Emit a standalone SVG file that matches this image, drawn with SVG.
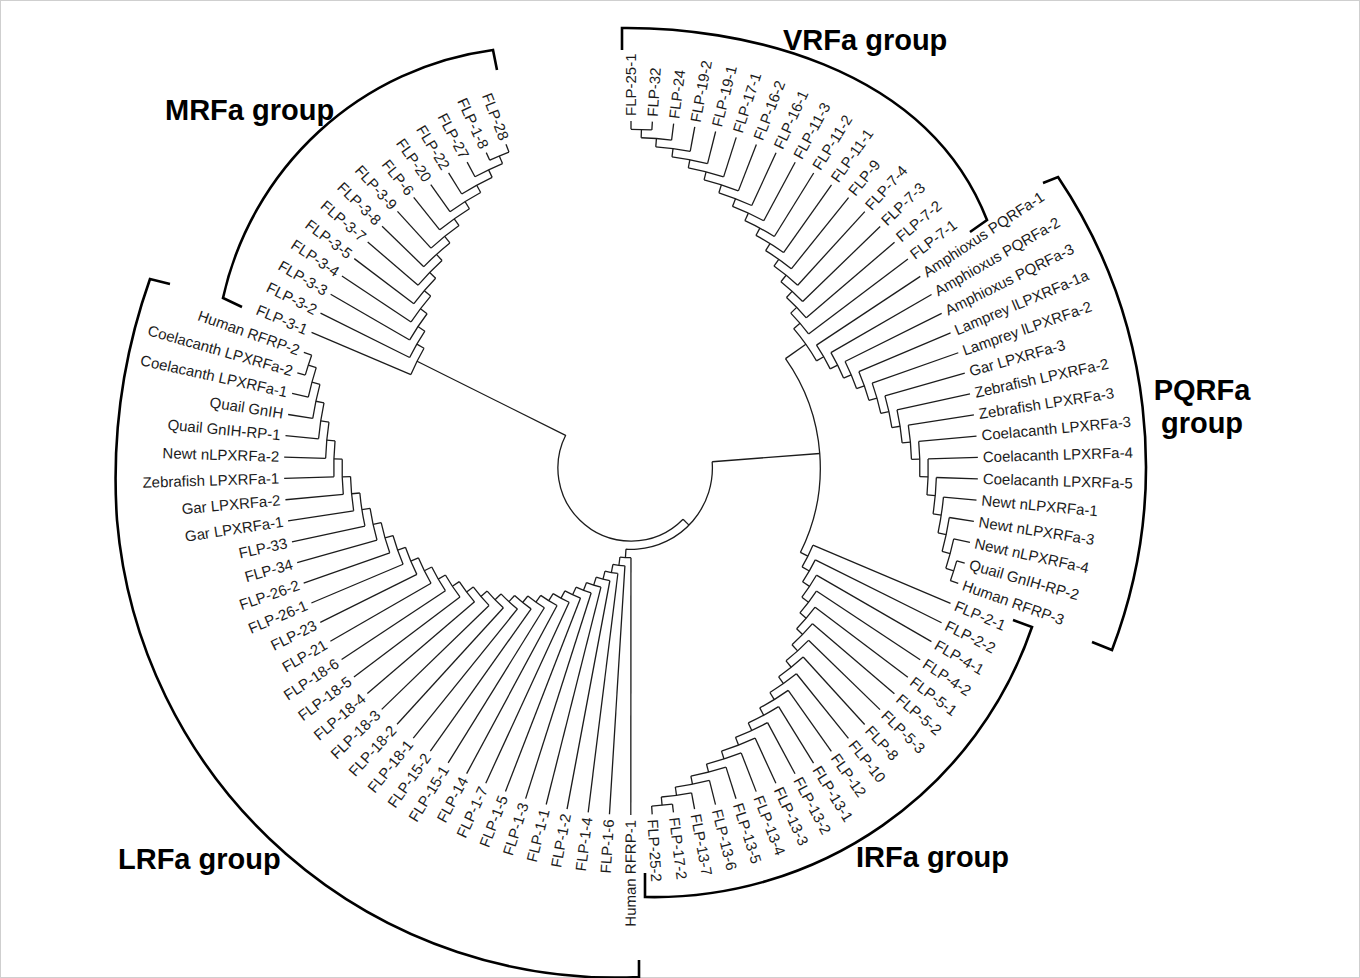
<svg xmlns="http://www.w3.org/2000/svg" width="1360" height="978" viewBox="0 0 1360 978">
<style>
.tr{fill:none;stroke:#1c1c1c;stroke-width:1.3}
.lb{font-family:"Liberation Sans",Arial,sans-serif;font-size:15px;fill:#1c1c1c}
.e{text-anchor:end}
.br{fill:none;stroke:#000;stroke-width:2.6}
.tt{font-family:"Liberation Sans",Arial,sans-serif;font-size:29px;font-weight:bold;fill:#000}
</style>
<defs>
<g id="L14">
<line x1="338.7" x2="347"/>
<line x1="338.7" x2="347" transform="rotate(3.53)"/>
<line x1="330.4" x2="347" transform="rotate(7.06)"/>
<line x1="322.1" x2="347" transform="rotate(10.59)"/>
<line x1="313.8" x2="347" transform="rotate(14.12)"/>
<line x1="305.5" x2="347" transform="rotate(17.65)"/>
<line x1="297.2" x2="347" transform="rotate(21.18)"/>
<line x1="288.9" x2="347" transform="rotate(24.71)"/>
<line x1="280.6" x2="347" transform="rotate(28.24)"/>
<line x1="272.3" x2="347" transform="rotate(31.77)"/>
<line x1="264" x2="347" transform="rotate(35.3)"/>
<line x1="255.7" x2="347" transform="rotate(38.83)"/>
<line x1="247.4" x2="347" transform="rotate(42.36)"/>
<line x1="239.1" x2="347" transform="rotate(45.89)"/>
<line x1="330.4" x2="338.7" transform="rotate(1.765)"/>
<line x1="322.1" x2="330.4" transform="rotate(4.4125)"/>
<line x1="313.8" x2="322.1" transform="rotate(7.501)"/>
<line x1="305.5" x2="313.8" transform="rotate(10.811)"/>
<line x1="297.2" x2="305.5" transform="rotate(14.23)"/>
<line x1="288.9" x2="297.2" transform="rotate(17.705)"/>
<line x1="280.6" x2="288.9" transform="rotate(21.208)"/>
<line x1="272.3" x2="280.6" transform="rotate(24.724)"/>
<line x1="264" x2="272.3" transform="rotate(28.247)"/>
<line x1="255.7" x2="264" transform="rotate(31.773)"/>
<line x1="247.4" x2="255.7" transform="rotate(35.302)"/>
<line x1="239.1" x2="247.4" transform="rotate(38.83)"/>
<circle r="338.7" style="stroke-dasharray:20.87 3000"/>
<circle r="330.4" transform="rotate(1.765)" style="stroke-dasharray:30.53 3000"/>
<circle r="322.1" transform="rotate(4.4125)" style="stroke-dasharray:34.73 3000"/>
<circle r="313.8" transform="rotate(7.501)" style="stroke-dasharray:36.25 3000"/>
<circle r="305.5" transform="rotate(10.811)" style="stroke-dasharray:36.47 3000"/>
<circle r="297.2" transform="rotate(14.23)" style="stroke-dasharray:36.05 3000"/>
<circle r="288.9" transform="rotate(17.705)" style="stroke-dasharray:35.32 3000"/>
<circle r="280.6" transform="rotate(21.208)" style="stroke-dasharray:34.44 3000"/>
<circle r="272.3" transform="rotate(24.724)" style="stroke-dasharray:33.49 3000"/>
<circle r="264" transform="rotate(28.247)" style="stroke-dasharray:32.5 3000"/>
<circle r="255.7" transform="rotate(31.773)" style="stroke-dasharray:31.51 3000"/>
<circle r="247.4" transform="rotate(35.302)" style="stroke-dasharray:30.49 3000"/>
<circle r="239.1" transform="rotate(38.83)" style="stroke-dasharray:29.46 3000"/>
</g>
<g id="L16">
<use href="#L14"/>
<line x1="230.8" x2="347" transform="rotate(49.42)"/>
<line x1="222.5" x2="347" transform="rotate(52.95)"/>
<line x1="230.8" x2="239.1" transform="rotate(42.36)"/>
<line x1="222.5" x2="230.8" transform="rotate(45.89)"/>
<circle r="230.8" transform="rotate(42.36)" style="stroke-dasharray:28.44 3000"/>
<circle r="222.5" transform="rotate(45.89)" style="stroke-dasharray:27.42 3000"/>
</g>
<g id="L19">
<use href="#L16"/>
<line x1="214.2" x2="347" transform="rotate(56.48)"/>
<line x1="205.9" x2="347" transform="rotate(60.01)"/>
<line x1="197.6" x2="347" transform="rotate(63.54)"/>
<line x1="214.2" x2="222.5" transform="rotate(49.42)"/>
<line x1="205.9" x2="214.2" transform="rotate(52.95)"/>
<line x1="197.6" x2="205.9" transform="rotate(56.48)"/>
<circle r="214.2" transform="rotate(49.42)" style="stroke-dasharray:26.39 3000"/>
<circle r="205.9" transform="rotate(52.95)" style="stroke-dasharray:25.37 3000"/>
<circle r="197.6" transform="rotate(56.48)" style="stroke-dasharray:24.35 3000"/>
</g>
<g id="L31">
<use href="#L19"/>
<line x1="189.3" x2="347" transform="rotate(67.07)"/>
<line x1="181" x2="347" transform="rotate(70.6)"/>
<line x1="172.7" x2="347" transform="rotate(74.13)"/>
<line x1="164.4" x2="347" transform="rotate(77.66)"/>
<line x1="156.1" x2="347" transform="rotate(81.19)"/>
<line x1="147.8" x2="347" transform="rotate(84.72)"/>
<line x1="139.5" x2="347" transform="rotate(88.25)"/>
<line x1="131.2" x2="347" transform="rotate(91.78)"/>
<line x1="122.9" x2="347" transform="rotate(95.31)"/>
<line x1="114.6" x2="347" transform="rotate(98.84)"/>
<line x1="106.3" x2="347" transform="rotate(102.37)"/>
<line x1="98" x2="347" transform="rotate(105.9)"/>
<line x1="189.3" x2="197.6" transform="rotate(60.01)"/>
<line x1="181" x2="189.3" transform="rotate(63.54)"/>
<line x1="172.7" x2="181" transform="rotate(67.07)"/>
<line x1="164.4" x2="172.7" transform="rotate(70.6)"/>
<line x1="156.1" x2="164.4" transform="rotate(74.13)"/>
<line x1="147.8" x2="156.1" transform="rotate(77.66)"/>
<line x1="139.5" x2="147.8" transform="rotate(81.19)"/>
<line x1="131.2" x2="139.5" transform="rotate(84.72)"/>
<line x1="122.9" x2="131.2" transform="rotate(88.25)"/>
<line x1="114.6" x2="122.9" transform="rotate(91.78)"/>
<line x1="106.3" x2="114.6" transform="rotate(95.31)"/>
<line x1="98" x2="106.3" transform="rotate(98.84)"/>
<circle r="189.3" transform="rotate(60.01)" style="stroke-dasharray:23.33 3000"/>
<circle r="181" transform="rotate(63.54)" style="stroke-dasharray:22.3 3000"/>
<circle r="172.7" transform="rotate(67.07)" style="stroke-dasharray:21.28 3000"/>
<circle r="164.4" transform="rotate(70.6)" style="stroke-dasharray:20.26 3000"/>
<circle r="156.1" transform="rotate(74.13)" style="stroke-dasharray:19.24 3000"/>
<circle r="147.8" transform="rotate(77.66)" style="stroke-dasharray:18.21 3000"/>
<circle r="139.5" transform="rotate(81.19)" style="stroke-dasharray:17.19 3000"/>
<circle r="131.2" transform="rotate(84.72)" style="stroke-dasharray:16.17 3000"/>
<circle r="122.9" transform="rotate(88.25)" style="stroke-dasharray:15.14 3000"/>
<circle r="114.6" transform="rotate(91.78)" style="stroke-dasharray:14.12 3000"/>
<circle r="106.3" transform="rotate(95.31)" style="stroke-dasharray:13.1 3000"/>
<circle r="98" transform="rotate(98.84)" style="stroke-dasharray:12.08 3000"/>
</g>
</defs>
<rect x="0.5" y="0.5" width="1359" height="977" fill="#fff" stroke="#cfcfcf"/>
<g id="connectors" class="tr">
<g id="backbone" transform="translate(631,468)">
<circle r="73.1" transform="rotate(44.58)" style="stroke-dasharray:206.61 3000"/>
<line x1="73.1" x2="81.4" transform="rotate(44.58)"/>
<circle r="81.4" transform="rotate(-4.3975)" style="stroke-dasharray:139.17 3000"/>
<line x1="81.4" x2="189.3" transform="rotate(-4.3975)"/>
<circle r="189.3" transform="rotate(-35.285)" style="stroke-dasharray:204.1 3000"/>
<line x1="189.3" x2="214.2" transform="rotate(-35.285)"/>
<circle r="214.2" transform="rotate(-40.58)" style="stroke-dasharray:39.59 3000"/>
<line x1="81.4" x2="89.7" transform="rotate(93.56)"/>
<circle r="89.7" transform="rotate(90.03)" style="stroke-dasharray:11.05 3000"/>
<line x1="89.7" x2="347" transform="rotate(90.03)"/>
</g>
<g id="clade-VRFa" transform="translate(631,468) rotate(-90)"><use href="#L16"/><line x1="214.2" x2="222.5" transform="rotate(49.42)"/></g>
<g id="clade-PQRFa" transform="translate(631,468) rotate(19.43) scale(1,-1)"><use href="#L16"/><line x1="214.2" x2="222.5" transform="rotate(49.42)"/></g>
<g id="clade-IRFa" transform="translate(631,468) rotate(86.5) scale(1,-1)"><use href="#L19"/><line x1="189.3" x2="197.6" transform="rotate(60.01)"/></g>
<g id="clade-LRFa" transform="translate(631,468) rotate(199.46) scale(1,-1)"><use href="#L31"/><line x1="89.7" x2="98" transform="rotate(102.37)"/></g>
<g id="clade-MRFa" transform="translate(631,468) rotate(248.88) scale(1,-1)"><use href="#L14"/><line x1="73.1" x2="239.1" transform="rotate(42.36)"/></g>
</g>
<g id="labels" class="lb" transform="translate(631,468)">
<g id="n0"><text transform="rotate(-90)" x="352" dy="5">FLP-25-1</text></g>
<g id="n1"><text transform="rotate(-86.47)" x="352" dy="5">FLP-32</text></g>
<g id="n2"><text transform="rotate(-82.94)" x="352" dy="5">FLP-24</text></g>
<g id="n3"><text transform="rotate(-79.41)" x="352" dy="5">FLP-19-2</text></g>
<g id="n4"><text transform="rotate(-75.88)" x="352" dy="5">FLP-19-1</text></g>
<g id="n5"><text transform="rotate(-72.35)" x="352" dy="5">FLP-17-1</text></g>
<g id="n6"><text transform="rotate(-68.82)" x="352" dy="5">FLP-16-2</text></g>
<g id="n7"><text transform="rotate(-65.29)" x="352" dy="5">FLP-16-1</text></g>
<g id="n8"><text transform="rotate(-61.76)" x="352" dy="5">FLP-11-3</text></g>
<g id="n9"><text transform="rotate(-58.23)" x="352" dy="5">FLP-11-2</text></g>
<g id="n10"><text transform="rotate(-54.7)" x="352" dy="5">FLP-11-1</text></g>
<g id="n11"><text transform="rotate(-51.17)" x="352" dy="5">FLP-9</text></g>
<g id="n12"><text transform="rotate(-47.64)" x="352" dy="5">FLP-7-4</text></g>
<g id="n13"><text transform="rotate(-44.11)" x="352" dy="5">FLP-7-3</text></g>
<g id="n14"><text transform="rotate(-40.58)" x="352" dy="5">FLP-7-2</text></g>
<g id="n15"><text transform="rotate(-37.05)" x="352" dy="5">FLP-7-1</text></g>
<g id="n16"><text transform="rotate(-33.52)" x="352" dy="5">Amphioxus PQRFa-1</text></g>
<g id="n17"><text transform="rotate(-29.99)" x="352" dy="5">Amphioxus PQRFa-2</text></g>
<g id="n18"><text transform="rotate(-26.46)" x="352" dy="5">Amphioxus PQRFa-3</text></g>
<g id="n19"><text transform="rotate(-22.93)" x="352" dy="5">Lamprey lLPXRFa-1a</text></g>
<g id="n20"><text transform="rotate(-19.4)" x="352" dy="5">Lamprey lLPXRFa-2</text></g>
<g id="n21"><text transform="rotate(-15.87)" x="352" dy="5">Gar LPXRFa-3</text></g>
<g id="n22"><text transform="rotate(-12.34)" x="352" dy="5">Zebrafish LPXRFa-2</text></g>
<g id="n23"><text transform="rotate(-8.81)" x="352" dy="5">Zebrafish LPXRFa-3</text></g>
<g id="n24"><text transform="rotate(-5.28)" x="352" dy="5">Coelacanth LPXRFa-3</text></g>
<g id="n25"><text transform="rotate(-1.75)" x="352" dy="5">Coelacanth LPXRFa-4</text></g>
<g id="n26"><text transform="rotate(1.78)" x="352" dy="5">Coelacanth LPXRFa-5</text></g>
<g id="n27"><text transform="rotate(5.31)" x="352" dy="5">Newt nLPXRFa-1</text></g>
<g id="n28"><text transform="rotate(8.84)" x="352" dy="5">Newt nLPXRFa-3</text></g>
<g id="n29"><text transform="rotate(12.37)" x="352" dy="5">Newt nLPXRFa-4</text></g>
<g id="n30"><text transform="rotate(15.9)" x="352" dy="5">Quail GnIH-RP-2</text></g>
<g id="n31"><text transform="rotate(19.43)" x="352" dy="5">Human RFRP-3</text></g>
<g id="n32"><text transform="rotate(22.96)" x="352" dy="5">FLP-2-1</text></g>
<g id="n33"><text transform="rotate(26.49)" x="352" dy="5">FLP-2-2</text></g>
<g id="n34"><text transform="rotate(30.02)" x="352" dy="5">FLP-4-1</text></g>
<g id="n35"><text transform="rotate(33.55)" x="352" dy="5">FLP-4-2</text></g>
<g id="n36"><text transform="rotate(37.08)" x="352" dy="5">FLP-5-1</text></g>
<g id="n37"><text transform="rotate(40.61)" x="352" dy="5">FLP-5-2</text></g>
<g id="n38"><text transform="rotate(44.14)" x="352" dy="5">FLP-5-3</text></g>
<g id="n39"><text transform="rotate(47.67)" x="352" dy="5">FLP-8</text></g>
<g id="n40"><text transform="rotate(51.2)" x="352" dy="5">FLP-10</text></g>
<g id="n41"><text transform="rotate(54.73)" x="352" dy="5">FLP-12</text></g>
<g id="n42"><text transform="rotate(58.26)" x="352" dy="5">FLP-13-1</text></g>
<g id="n43"><text transform="rotate(61.79)" x="352" dy="5">FLP-13-2</text></g>
<g id="n44"><text transform="rotate(65.32)" x="352" dy="5">FLP-13-3</text></g>
<g id="n45"><text transform="rotate(68.85)" x="352" dy="5">FLP-13-4</text></g>
<g id="n46"><text transform="rotate(72.38)" x="352" dy="5">FLP-13-5</text></g>
<g id="n47"><text transform="rotate(75.91)" x="352" dy="5">FLP-13-6</text></g>
<g id="n48"><text transform="rotate(79.44)" x="352" dy="5">FLP-13-7</text></g>
<g id="n49"><text transform="rotate(82.97)" x="352" dy="5">FLP-17-2</text></g>
<g id="n50"><text transform="rotate(86.5)" x="352" dy="5">FLP-25-2</text></g>
<g id="n51"><text class="e" transform="rotate(-89.97)" x="-352" dy="5">Human RFRP-1</text></g>
<g id="n52"><text class="e" transform="rotate(-86.44)" x="-352" dy="5">FLP-1-6</text></g>
<g id="n53"><text class="e" transform="rotate(-82.91)" x="-352" dy="5">FLP-1-4</text></g>
<g id="n54"><text class="e" transform="rotate(-79.38)" x="-352" dy="5">FLP-1-2</text></g>
<g id="n55"><text class="e" transform="rotate(-75.85)" x="-352" dy="5">FLP-1-1</text></g>
<g id="n56"><text class="e" transform="rotate(-72.32)" x="-352" dy="5">FLP-1-3</text></g>
<g id="n57"><text class="e" transform="rotate(-68.79)" x="-352" dy="5">FLP-1-5</text></g>
<g id="n58"><text class="e" transform="rotate(-65.26)" x="-352" dy="5">FLP-1-7</text></g>
<g id="n59"><text class="e" transform="rotate(-61.73)" x="-352" dy="5">FLP-14</text></g>
<g id="n60"><text class="e" transform="rotate(-58.2)" x="-352" dy="5">FLP-15-1</text></g>
<g id="n61"><text class="e" transform="rotate(-54.67)" x="-352" dy="5">FLP-15-2</text></g>
<g id="n62"><text class="e" transform="rotate(-51.14)" x="-352" dy="5">FLP-18-1</text></g>
<g id="n63"><text class="e" transform="rotate(-47.61)" x="-352" dy="5">FLP-18-2</text></g>
<g id="n64"><text class="e" transform="rotate(-44.08)" x="-352" dy="5">FLP-18-3</text></g>
<g id="n65"><text class="e" transform="rotate(-40.55)" x="-352" dy="5">FLP-18-4</text></g>
<g id="n66"><text class="e" transform="rotate(-37.02)" x="-352" dy="5">FLP-18-5</text></g>
<g id="n67"><text class="e" transform="rotate(-33.49)" x="-352" dy="5">FLP-18-6</text></g>
<g id="n68"><text class="e" transform="rotate(-29.96)" x="-352" dy="5">FLP-21</text></g>
<g id="n69"><text class="e" transform="rotate(-26.43)" x="-352" dy="5">FLP-23</text></g>
<g id="n70"><text class="e" transform="rotate(-22.9)" x="-352" dy="5">FLP-26-1</text></g>
<g id="n71"><text class="e" transform="rotate(-19.37)" x="-352" dy="5">FLP-26-2</text></g>
<g id="n72"><text class="e" transform="rotate(-15.84)" x="-352" dy="5">FLP-34</text></g>
<g id="n73"><text class="e" transform="rotate(-12.31)" x="-352" dy="5">FLP-33</text></g>
<g id="n74"><text class="e" transform="rotate(-8.78)" x="-352" dy="5">Gar LPXRFa-1</text></g>
<g id="n75"><text class="e" transform="rotate(-5.25)" x="-352" dy="5">Gar LPXRFa-2</text></g>
<g id="n76"><text class="e" transform="rotate(-1.72)" x="-352" dy="5">Zebrafish LPXRFa-1</text></g>
<g id="n77"><text class="e" transform="rotate(1.81)" x="-352" dy="5">Newt nLPXRFa-2</text></g>
<g id="n78"><text class="e" transform="rotate(5.34)" x="-352" dy="5">Quail GnIH-RP-1</text></g>
<g id="n79"><text class="e" transform="rotate(8.87)" x="-352" dy="5">Quail GnIH</text></g>
<g id="n80"><text class="e" transform="rotate(12.4)" x="-352" dy="5">Coelacanth LPXRFa-1</text></g>
<g id="n81"><text class="e" transform="rotate(15.93)" x="-352" dy="5">Coelacanth LPXRFa-2</text></g>
<g id="n82"><text class="e" transform="rotate(19.46)" x="-352" dy="5">Human RFRP-2</text></g>
<g id="n83"><text class="e" transform="rotate(22.99)" x="-352" dy="5">FLP-3-1</text></g>
<g id="n84"><text class="e" transform="rotate(26.52)" x="-352" dy="5">FLP-3-2</text></g>
<g id="n85"><text class="e" transform="rotate(30.05)" x="-352" dy="5">FLP-3-3</text></g>
<g id="n86"><text class="e" transform="rotate(33.58)" x="-352" dy="5">FLP-3-4</text></g>
<g id="n87"><text class="e" transform="rotate(37.11)" x="-352" dy="5">FLP-3-5</text></g>
<g id="n88"><text class="e" transform="rotate(40.64)" x="-352" dy="5">FLP-3-7</text></g>
<g id="n89"><text class="e" transform="rotate(44.17)" x="-352" dy="5">FLP-3-8</text></g>
<g id="n90"><text class="e" transform="rotate(47.7)" x="-352" dy="5">FLP-3-9</text></g>
<g id="n91"><text class="e" transform="rotate(51.23)" x="-352" dy="5">FLP-6</text></g>
<g id="n92"><text class="e" transform="rotate(54.76)" x="-352" dy="5">FLP-20</text></g>
<g id="n93"><text class="e" transform="rotate(58.29)" x="-352" dy="5">FLP-22</text></g>
<g id="n94"><text class="e" transform="rotate(61.82)" x="-352" dy="5">FLP-27</text></g>
<g id="n95"><text class="e" transform="rotate(65.35)" x="-352" dy="5">FLP-1-8</text></g>
<g id="n96"><text class="e" transform="rotate(68.88)" x="-352" dy="5">FLP-28</text></g>
</g>
<g id="brackets" class="br">
<path id="br-VRFa" d="M622,50 L622,28 C735,27 925,62 987,220 L970,232"/>
<path id="br-MRFa" d="M497,70 L493,50 A320,320 0 0 0 223,298 L242,307"/>
<path id="br-PQRFa" d="M1043,183 L1058,177 A518,518 0 0 1 1112,650 L1092,642"/>
<path id="br-IRFa" d="M1013,620 L1032,627 A399,399 0 0 1 645,897 L645,873"/>
<path id="br-LRFa" d="M170,284 L150,279 A600,600 0 0 0 117,520 A500,500 0 0 0 639,977 L639,960"/>
</g>
<g id="titles" class="tt">
<text x="783" y="50">VRFa group</text>
<text x="165" y="120">MRFa group</text>
<text x="1202" y="400" text-anchor="middle">PQRFa</text>
<text x="1202" y="433" text-anchor="middle">group</text>
<text x="856" y="867">IRFa group</text>
<text x="118" y="869">LRFa group</text>
</g>
</svg>
